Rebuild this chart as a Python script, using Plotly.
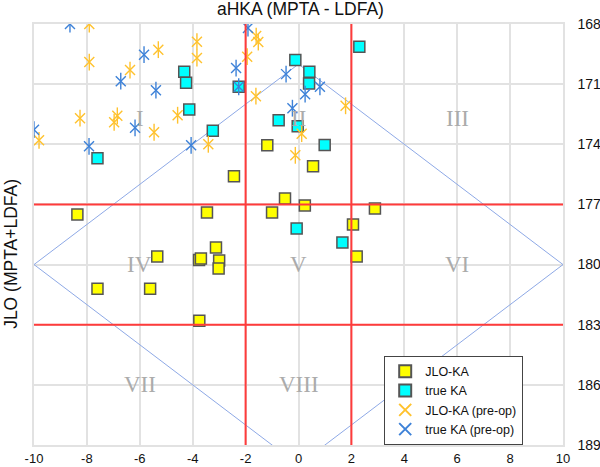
import plotly.graph_objects as go

# ---- data ----
jlo_x = [-2.44, -0.51, -8.36, -3.46, -1.0, -3.12, -5.34, -3.76, -3.69, -3.0,
         -3.02, -7.6, -5.61, -3.75, 0.55, 0.24, 2.89, 2.06, 2.2, -1.18]
jlo_y = [175.6, 176.7, 177.5, 177.4, 177.4, 179.15, 179.6, 179.77, 179.7, 179.8,
         180.2, 181.2, 181.2, 182.8, 175.1, 177.05, 177.2, 178.0, 179.6, 174.05]

true_x = [-4.32, -4.25, -2.26, -0.12, 0.41, 0.40, -4.13, -3.24, -0.75, -0.03,
          2.3, 0.99, -7.6, -0.07, 1.66]
true_y = [170.38, 170.93, 171.13, 169.8, 170.38, 170.97, 172.27, 173.33, 172.8, 173.1,
          169.13, 174.03, 174.7, 178.2, 178.9]

jlo_pre_x = [-7.91, -7.91, -5.3, -6.37, -8.26, -6.85, -6.97, -9.81, -5.46, -4.57,
             -3.84, -3.84, -1.6, -1.52, -1.94, -1.61, -3.41, 0.12, -0.12, 1.78]
jlo_pre_y = [168.0, 169.9, 169.28, 170.3, 172.7, 172.58, 172.9, 173.8, 173.4, 172.55,
             168.88, 169.7, 168.6, 168.9, 169.63, 171.6, 174.0, 173.47, 174.55, 172.08]

true_pre_x = [-8.64, -5.84, -6.72, -5.39, -10.0, -6.18, -7.92, -1.91, -2.36, -2.26,
              -0.47, 0.25, -0.23, -4.06, 0.81]
true_pre_y = [168.0, 169.53, 170.85, 171.3, 173.27, 173.18, 174.1, 168.2, 170.2, 171.13,
              170.5, 171.5, 172.2, 174.05, 171.13]

diamond_x = [-10, 0, 10, 0, -10]
diamond_y = [180, 170, 180, 190, 180]

red_x = [-2, 2]
red_y = [177, 183]

region_labels = ["I", "II", "III", "IV", "V", "VI", "VII", "VIII"]
region_x = [-6, 0, 6, -6, 0, 6, -6, 0]
region_y = [172.7, 172.7, 172.7, 180, 180, 180, 186, 186]

x_ticks = list(range(-10, 11, 2))
y_ticks = list(range(168, 190, 3))

ORANGE = "#FFC22E"
BLUE = "#3E82D8"

fig = go.Figure()

fig.add_trace(go.Scatter(x=diamond_x, y=diamond_y, mode="lines",
                         line=dict(color="#8EA9E6", width=1), showlegend=False,
                         hoverinfo="skip"))

fig.add_trace(go.Scatter(x=jlo_x, y=jlo_y, mode="markers", name="JLO-KA",
                         marker=dict(symbol="square", size=11, color="#FFFF00",
                                     line=dict(color="#555555", width=1.5))))
fig.add_trace(go.Scatter(x=true_x, y=true_y, mode="markers", name="true KA",
                         marker=dict(symbol="square", size=11, color="#00FFFF",
                                     line=dict(color="#555555", width=1.5))))

for xs, ys, col, nm, grp in [(jlo_pre_x, jlo_pre_y, ORANGE, "JLO-KA (pre-op)", "a"),
                             (true_pre_x, true_pre_y, BLUE, "true KA (pre-op)", "b")]:
    fig.add_trace(go.Scatter(x=xs, y=ys, mode="markers", name=nm, legendgroup=grp,
                             marker=dict(symbol="x-thin-open", size=10, color=col,
                                         line=dict(color=col, width=1.4))))
    fig.add_trace(go.Scatter(x=xs, y=ys, mode="markers", name=nm, legendgroup=grp,
                             showlegend=False,
                             marker=dict(symbol="line-ns-open", size=12, color=col,
                                         line=dict(color=col, width=1.4))))

for xv in red_x:
    fig.add_shape(type="line", xref="x", yref="paper", x0=xv, x1=xv, y0=0, y1=1,
                  line=dict(color="#FF3B3B", width=2), layer="above")
for yv in red_y:
    fig.add_shape(type="line", xref="paper", yref="y", x0=0, x1=1, y0=yv, y1=yv,
                  line=dict(color="#FF3B3B", width=2), layer="above")

for t, xv, yv in zip(region_labels, region_x, region_y):
    fig.add_annotation(x=xv, y=yv, text=t, showarrow=False,
                       font=dict(family="Liberation Serif, Times New Roman, serif",
                                 size=23, color="#ABABAB"))

fig.add_annotation(xref="paper", yref="paper", x=0.503, y=1, yshift=15,
                   text="aHKA (MPTA - LDFA)", showarrow=False, yanchor="middle",
                   font=dict(size=17.5, color="#111111"))
fig.add_annotation(xref="paper", yref="paper", x=0, xshift=-23, y=0.454,
                   text="JLO (MPTA+LDFA)", showarrow=False, textangle=-90,
                   xanchor="center", yanchor="middle",
                   font=dict(size=17.5, color="#111111"))

fig.update_layout(
    width=600, height=467,
    margin=dict(l=34, r=37, t=24, b=22),
    paper_bgcolor="white", plot_bgcolor="white",
    font=dict(family="Liberation Sans, Arial, Helvetica, sans-serif", color="#111111"),
    xaxis=dict(range=[-10, 10], tickvals=x_ticks, ticktext=[str(v) for v in x_ticks],
               showgrid=True, gridcolor="#E2E2E2", gridwidth=1.5, zeroline=False,
               showline=True, linecolor="#E2E2E2", linewidth=1.5, mirror=True,
               tickfont=dict(size=13), ticklabelstandoff=1, automargin=False),
    yaxis=dict(range=[189, 168], tickvals=y_ticks, ticktext=[str(v) for v in y_ticks],
               side="right", showgrid=True, gridcolor="#E2E2E2", gridwidth=1.5,
               zeroline=False, showline=True, linecolor="#E2E2E2", linewidth=1.5,
               mirror=True, tickfont=dict(size=14), ticklabelstandoff=10,
               automargin=False),
    legend=dict(x=0.662, y=0.212, xanchor="left", yanchor="top",
                bgcolor="white", bordercolor="#444444", borderwidth=1,
                font=dict(size=12.5), tracegroupgap=0, itemwidth=30,
                itemsizing="constant"),
    showlegend=True,
)

fig.write_html("out.html")
